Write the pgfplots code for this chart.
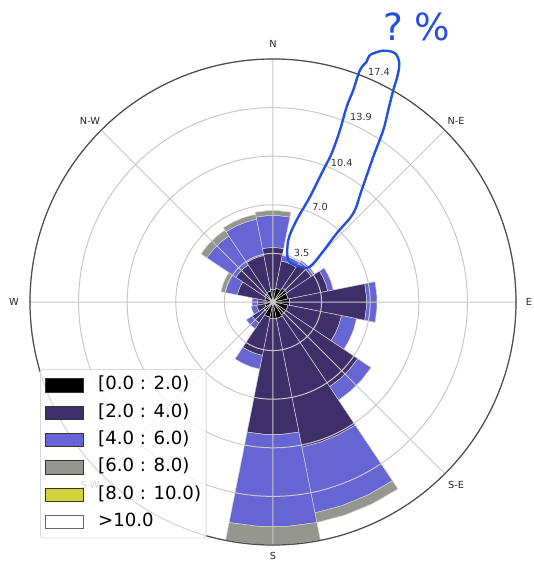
\documentclass[border=0pt]{standalone}
\usepackage{fontspec}
\setmainfont{DejaVu Sans}
\usepackage{pgfplots}
\pgfplotsset{compat=1.18}
\usepgfplotslibrary{polar}
\definecolor{cA}{HTML}{000000}
\definecolor{cB}{HTML}{3E2F6B}
\definecolor{cC}{HTML}{6765D4}
\definecolor{cD}{HTML}{969690}
\definecolor{cE}{HTML}{D2D23A}
\definecolor{cF}{HTML}{FFFFFF}
\definecolor{edgec}{HTML}{D4D4D4}
\definecolor{gridc}{HTML}{C8C8C8}
\definecolor{annot}{HTML}{2350E1}
% one stacked segment of a direction bar: compass angle, r from, r to, colour
\newcommand{\sector}[4]{%
  \pgfmathsetmacro{\aA}{mod(90-#1+11.25+720,360)}%
  \pgfmathsetmacro{\aB}{mod(90-#1+3.75+720,360)}%
  \pgfmathsetmacro{\aC}{mod(90-#1-3.75+720,360)}%
  \pgfmathsetmacro{\aD}{mod(90-#1-11.25+720,360)}%
  \edef\sectorplot{\noexpand\addplot[forget plot, fill=#4, draw=edgec, line width=0.35pt, line join=round] coordinates {(\aA,#3) (\aB,#3) (\aC,#3) (\aD,#3) (\aD,#2) (\aC,#2) (\aB,#2) (\aA,#2)} -- cycle;}%
  \sectorplot
}
\begin{document}
\begin{tikzpicture}
% direction labels (drawn first, the legend lies over S-W)
\begin{scope}[x=0.75pt, y=-0.75pt, shift={(-273,-302)}, every node/.style={font=\fontsize{7.3pt}{8.8pt}\selectfont, text=black!85}]
\node at (273,44) {N};
\node at (456,121) {N-E};
\node at (529,302) {E};
\node at (456,485) {S-E};
\node at (273,556) {S};
\node at (90,485) {S-W};
\node at (14,302) {W};
\node at (90,121) {N-W};
\end{scope}
\begin{polaraxis}[
  at={(0,0)}, anchor=center,
  scale only axis, width=364.5pt, height=364.5pt,
  xmin=0, xmax=360, ymin=0, ymax=17.4,
  xtick={0,45,...,315},
  ytick={3.48,6.96,10.44,13.92,17.4},
  xticklabels={}, yticklabels={},
  major tick length=0pt,
  grid=major,
  major grid style={gridc, line width=0.75pt},
  x axis line style={black!70, line width=0.9pt},
  y axis line style={draw=none},
  axis on top,
  legend style={at={(0.0206,0.3621)}, anchor=north west, draw=gray!30, line width=0.6pt,
    rounded corners=2pt, fill=white, fill opacity=0.8, draw opacity=1, text opacity=1,
    font=\fontsize{13.6pt}{16pt}\selectfont, inner xsep=3.75pt, inner ysep=5.5pt,
    row sep=7.5pt, column sep=10.5pt,
    nodes={inner sep=0pt, text height=9.9pt, text depth=3.1pt}},
  legend cell align=left,
  legend image code/.code={\draw[#1, sharp corners, fill opacity=1, line width=0.6pt] (0pt,-4.9pt) rectangle (28.5pt,4.9pt);},
]
% N
\sector{0}{0}{0.9}{cA}
\sector{0}{0.9}{3.9}{cB}
\sector{0}{3.9}{6.2}{cC}
\sector{0}{6.2}{6.55}{cD}
% NNE
\sector{22.5}{0}{1.0}{cA}
\sector{22.5}{1.0}{3.0}{cB}
\sector{22.5}{3.0}{3.4}{cC}
% NE
\sector{45}{0}{1.2}{cA}
\sector{45}{1.2}{3.3}{cB}
\sector{45}{3.3}{3.6}{cC}
% ENE
\sector{67.5}{0}{1.1}{cA}
\sector{67.5}{1.1}{4.0}{cB}
\sector{67.5}{4.0}{4.4}{cC}
% E
\sector{90}{0}{1.2}{cA}
\sector{90}{1.2}{6.7}{cB}
\sector{90}{6.7}{7.45}{cC}
% ESE
\sector{112.5}{0}{1.1}{cA}
\sector{112.5}{1.1}{5.0}{cB}
\sector{112.5}{5.0}{6.1}{cC}
% SE
\sector{135}{0}{1.1}{cA}
\sector{135}{1.1}{7.3}{cB}
\sector{135}{7.3}{8.45}{cC}
% SSE
\sector{157.5}{0}{1.2}{cA}
\sector{157.5}{1.2}{10.6}{cB}
\sector{157.5}{10.6}{15.4}{cC}
\sector{157.5}{15.4}{16.1}{cD}
% S
\sector{180}{0}{1.2}{cA}
\sector{180}{1.2}{9.5}{cB}
\sector{180}{9.5}{16.1}{cC}
\sector{180}{16.1}{17.4}{cD}
% SSW
\sector{202.5}{0}{1.1}{cA}
\sector{202.5}{1.1}{3.9}{cB}
\sector{202.5}{3.9}{4.9}{cC}
% SW
\sector{225}{0}{0.8}{cA}
\sector{225}{0.8}{1.8}{cB}
\sector{225}{1.8}{2.3}{cC}
% WSW
\sector{247.5}{0}{0.6}{cA}
\sector{247.5}{0.6}{1.2}{cB}
\sector{247.5}{1.2}{1.6}{cC}
% W
\sector{270}{0}{0.5}{cA}
\sector{270}{0.5}{1.1}{cB}
\sector{270}{1.1}{1.5}{cC}
% WNW
\sector{292.5}{0}{0.6}{cA}
\sector{292.5}{0.6}{2.6}{cB}
\sector{292.5}{2.6}{3.5}{cC}
\sector{292.5}{3.5}{3.8}{cD}
% NW
\sector{315}{0}{0.7}{cA}
\sector{315}{0.7}{3.2}{cB}
\sector{315}{3.2}{5.7}{cC}
\sector{315}{5.7}{6.2}{cD}
% NNW
\sector{337.5}{0}{0.8}{cA}
\sector{337.5}{0.8}{3.4}{cB}
\sector{337.5}{3.4}{6.05}{cC}
\sector{337.5}{6.05}{6.4}{cD}
% legend
\addlegendimage{fill=cA, draw=black!80}
\addlegendentry{[0.0 : 2.0)}
\addlegendimage{fill=cB, draw=black!80}
\addlegendentry{[2.0 : 4.0)}
\addlegendimage{fill=cC, draw=black!80}
\addlegendentry{[4.0 : 6.0)}
\addlegendimage{fill=cD, draw=black!80}
\addlegendentry{[6.0 : 8.0)}
\addlegendimage{fill=cE, draw=black!80}
\addlegendentry{[8.0 : 10.0)}
\addlegendimage{fill=cF, draw=black!60}
\addlegendentry{>10.0}
\end{polaraxis}
% radial labels and hand-drawn annotation
\begin{scope}[x=0.75pt, y=-0.75pt, shift={(-273,-302)}]
\begin{scope}[every node/.style={font=\fontsize{7.3pt}{8.8pt}\selectfont, text=black!80}]
\node at (301.7,253.3) {3.5};
\node at (320,207) {7.0};
\node at (341.7,162.7) {10.4};
\node at (361,117) {13.9};
\node at (379,71.7) {17.4};
\end{scope}
\draw[annot, line width=1.8pt, line cap=round, line join=round]
  plot[smooth cycle, tension=0.55] coordinates {(370,55) (383.3,50.7) (395,53.3) (399.3,63.3) (397.3,76.7) (393.3,90) (388.3,110) (383.3,130) (373.3,156.7) (361.7,190) (353.3,213.3) (336.7,233.3) (321.7,253.3) (310,266.7) (300,266.7) (288.3,260) (288.3,240) (296.7,220) (310,196.7) (323.3,170) (331.7,153.3) (340,130) (346.7,106.7) (353.3,90) (360,70) (366.7,61.7)};
\node[anchor=west, text=annot, font=\fontsize{28pt}{30pt}\selectfont] at (379,27) {?\hspace{8pt}\%};
\end{scope}
\pgfresetboundingbox
\path[use as bounding box] (-204.75pt,-195.75pt) rectangle (195.75pt,226.5pt);
\end{tikzpicture}
\end{document}
